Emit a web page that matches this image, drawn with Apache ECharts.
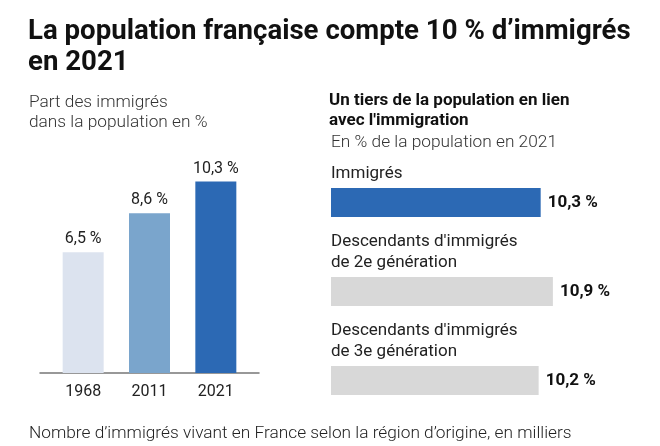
<!DOCTYPE html>
<html><head><meta charset="utf-8">
<script src="https://cdn.jsdelivr.net/npm/echarts@6/dist/echarts.min.js"></script>
<style>html,body{margin:0;padding:0;background:#fff}#c{width:660px;height:446px}</style>
</head><body><div id="c"></div>
<script>
const years = ['1968', '2011', '2021'];
const shares = [6.5, 8.6, 10.3];
const shareColors = ['#dce3ef', '#7aa5cc', '#2c69b4'];
const groups = ["Immigrés", "Descendants d'immigrés\nde 2e génération", "Descendants d'immigrés\nde 3e génération"];
const groupShares = [10.3, 10.9, 10.2];
const groupColors = ['#2c69b4', '#d8d8d8', '#d8d8d8'];

const fmt = v => String(v).replace('.', ',') + ' %';
const F = 'Roboto, "Noto Sans", sans-serif';
const chart = echarts.init(document.getElementById('c'), null, {renderer: 'canvas'});
chart.setOption({
  animation: false,
  textStyle: {fontFamily: F},
  title: [
    {text: "La population française compte 10 % d’immigrés\nen 2021", left: 28, top: 17, padding: 0,
     textStyle: {fontFamily: F, fontSize: 27.6, fontWeight: 'bold', color: '#111', lineHeight: 31}},
    {text: "Part des immigrés\ndans la population en %", left: 29, top: 93, padding: 0,
     textStyle: {fontFamily: F, fontSize: 17.3, fontWeight: 300, color: '#333', lineHeight: 20}},
    {text: "Un tiers de la population en lien\navec l'immigration", left: 329, top: 91, padding: 0,
     textStyle: {fontFamily: F, fontSize: 17, fontWeight: 'bold', color: '#111', lineHeight: 20}},
    {text: "En % de la population en 2021", left: 331, top: 134, padding: 0,
     textStyle: {fontFamily: F, fontSize: 17.3, fontWeight: 300, color: '#333'}},
    {text: "Nombre d’immigrés vivant en France selon la région d’origine, en milliers", left: 29, top: 425, padding: 0,
     textStyle: {fontFamily: F, fontSize: 17.3, fontWeight: 300, color: '#222'}}
  ],
  grid: [
    {left: 50, width: 199, top: 150, height: 223},
    {left: 40, width: 219, top: 150, height: 223},
    {left: 331, width: 285, top: 158, height: 267}
  ],
  xAxis: [
    {type: 'category', gridIndex: 0, data: years, axisLine: {show: false}, axisTick: {show: false},
     axisLabel: {fontSize: 16, color: '#222', margin: 11}},
    {type: 'category', gridIndex: 1, data: [''], axisLine: {show: true, lineStyle: {color: '#777', width: 1.5}},
     axisTick: {show: false}, axisLabel: {show: false}},
    {type: 'value', gridIndex: 2, min: 0, max: 14, show: false}
  ],
  yAxis: [
    {type: 'value', gridIndex: 0, min: 0, max: 12, show: false},
    {type: 'value', gridIndex: 1, min: 0, max: 12, show: false},
    {type: 'category', gridIndex: 2, data: groups, inverse: true,
     axisLine: {show: false}, axisTick: {show: false}, splitLine: {show: false},
     axisLabel: {inside: true, align: 'left', margin: 0, verticalAlign: 'bottom',
       fontSize: 17, color: '#222', lineHeight: 21, padding: [0, 0, 18, 0]}}
  ],
  series: [
    {type: 'bar', xAxisIndex: 0, yAxisIndex: 0, barWidth: 41,
     data: shares.map((v, i) => ({value: v, itemStyle: {color: shareColors[i]}})),
     label: {show: true, position: 'top', distance: 5, fontSize: 16, color: '#222', formatter: p => fmt(p.value)}},
    {type: 'bar', xAxisIndex: 2, yAxisIndex: 2, barWidth: 29,
     data: groupShares.map((v, i) => ({value: v, itemStyle: {color: groupColors[i]}})),
     label: {show: true, position: 'right', distance: 7, fontSize: 17, fontWeight: 'bold', color: '#111', formatter: p => fmt(p.value)}}
  ]
});
</script></body></html>
